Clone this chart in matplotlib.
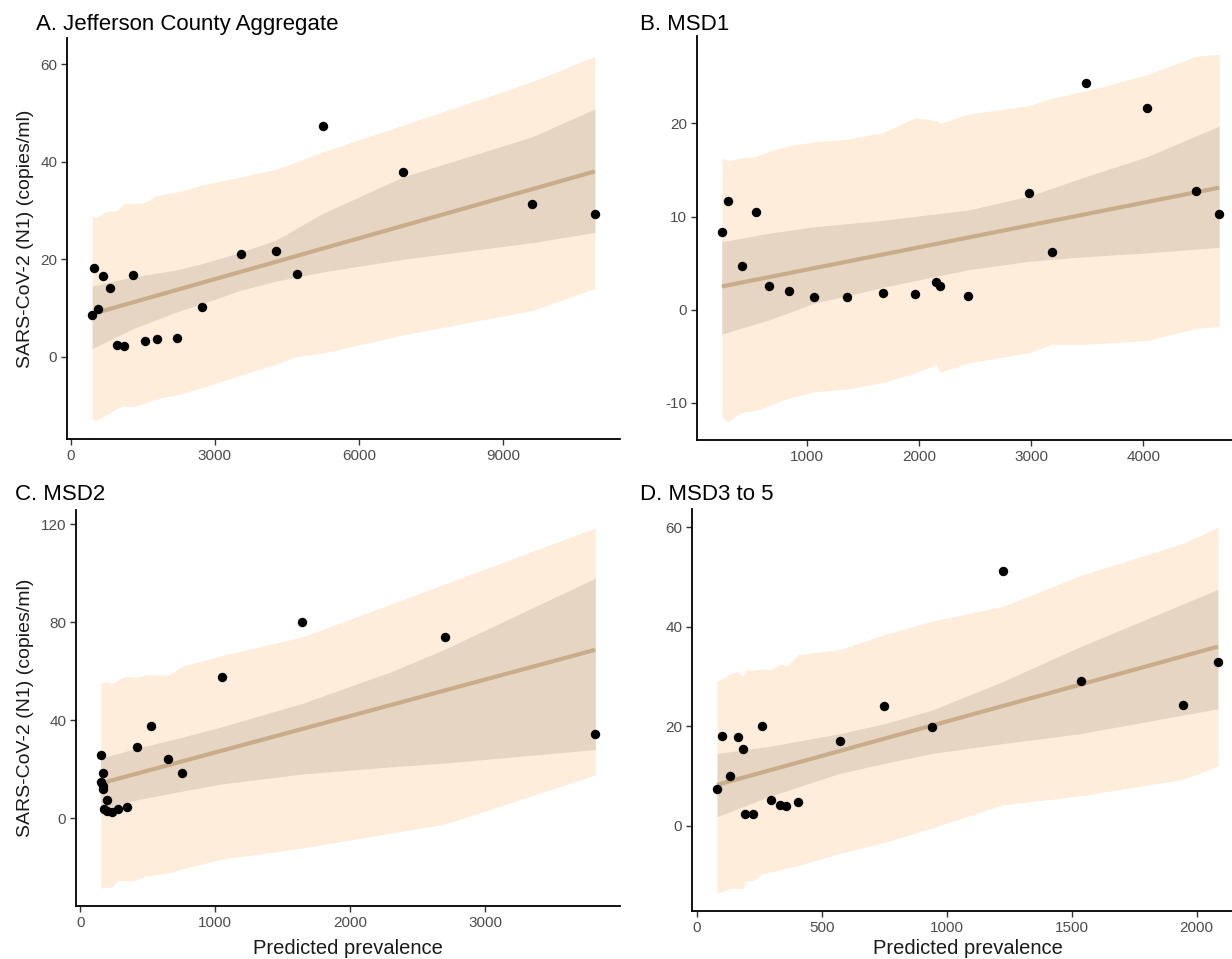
import matplotlib
matplotlib.use("Agg")
import matplotlib.pyplot as plt

plt.rcParams["font.family"] = ["Liberation Sans", "DejaVu Sans"]
plt.rcParams["axes.unicode_minus"] = False

# A. Jefferson County Aggregate
a_x = [442, 491, 557, 663, 811, 950, 1106, 1294, 1540, 1794, 2203, 2735, 3554, 4267, 4709, 5250, 6929, 9615, 10917]
a_y = [8.5, 18.3, 9.8, 16.6, 14.2, 2.5, 2.2, 16.7, 3.3, 3.6, 3.8, 10.3, 21.0, 21.7, 16.9, 47.3, 37.8, 31.3, 29.2]
a_pi_lo = [-12.8, -13.1, -12.9, -12.3, -11.5, -10.6, -10.1, -10.2, -9.5, -8.5, -7.8, -6.3, -3.7, -1.5, 0.1, 0.8, 4.5, 9.5, 14.0]
a_pi_hi = [29.0, 28.6, 28.6, 29.5, 29.9, 29.9, 31.4, 31.4, 31.6, 33.1, 33.7, 35.2, 36.9, 38.4, 40.0, 42.0, 47.5, 56.4, 61.6]
a_ci_x = [442, 1302, 2203, 2735, 3554, 4267, 5250, 6929, 9615, 10917]
a_ci_lo = [1.7, 5.8, 9.2, 10.9, 13.7, 15.5, 17.4, 20.0, 23.4, 25.5]
a_ci_hi = [14.5, 16.4, 17.8, 19.1, 21.5, 23.9, 29.4, 36.9, 45.1, 50.8]
a_fit_x = [442, 10917]
a_fit_y = [8.8, 38.0]

# B. MSD1
b_x = [245, 297, 420, 545, 661, 839, 1066, 1364, 1678, 1965, 2150, 2192, 2441, 2983, 3182, 3493, 4028, 4472, 4675]
b_y = [8.3, 11.7, 4.7, 10.5, 2.6, 2.0, 1.4, 1.4, 1.8, 1.7, 3.0, 2.5, 1.5, 12.5, 6.2, 24.3, 21.6, 12.7, 10.3]
b_pi_lo = [-11.5, -12.0, -11.0, -10.8, -10.3, -9.5, -8.8, -8.5, -7.8, -6.8, -5.9, -6.7, -5.7, -4.6, -3.7, -3.7, -3.3, -2.0, -1.8]
b_pi_hi = [16.3, 16.0, 16.3, 16.4, 17.0, 17.6, 18.0, 18.3, 19.0, 20.6, 20.3, 20.0, 21.0, 21.9, 22.7, 23.5, 25.2, 27.2, 27.4]
b_ci_x = [245, 661, 1066, 1678, 2441, 2983, 3493, 4028, 4675]
b_ci_lo = [-2.6, -1.1, 0.7, 2.4, 4.3, 5.2, 5.7, 6.1, 6.7]
b_ci_hi = [7.3, 8.2, 8.9, 9.6, 10.7, 12.2, 14.3, 16.4, 19.7]
b_fit_x = [245, 4675]
b_fit_y = [2.5, 13.1]

# C. MSD2
c_x = [151, 156, 165, 168, 170, 176, 200, 201, 231, 281, 344, 419, 524, 647, 754, 1049, 1643, 2703, 3816]
c_y = [25.8, 14.8, 13.0, 18.5, 12.0, 3.6, 3.0, 7.6, 2.6, 3.6, 4.6, 29.1, 37.6, 24.1, 18.6, 57.6, 80.0, 73.8, 34.3]
c_pi_x = [151, 189, 233, 277, 335, 408, 495, 655, 754, 1049, 1643, 2703, 3816]
c_pi_lo = [-28.5, -28.3, -28.1, -25.5, -25.5, -25.4, -23.5, -22.4, -20.7, -16.7, -12.2, -2.4, 17.6]
c_pi_hi = [54.9, 55.9, 54.9, 56.3, 57.9, 57.4, 58.6, 58.3, 62.0, 66.4, 73.9, 95.6, 118.4]
c_ci_x = [151, 419, 754, 1049, 1643, 2316, 2703, 3816]
c_ci_lo = [3.4, 7.5, 11.0, 14.0, 18.0, 21.0, 22.5, 28.0]
c_ci_hi = [24.5, 28.5, 33.0, 37.3, 46.8, 60.0, 69.0, 97.9]
c_fit_x = [151, 3816]
c_fit_y = [14.2, 68.7]

# D. MSD3 to 5
d_x = [80, 99, 132, 162, 182, 193, 225, 261, 297, 331, 358, 405, 571, 750, 939, 1225, 1535, 1947, 2085]
d_y = [7.4, 18.1, 9.9, 17.9, 15.4, 2.4, 2.4, 20.1, 5.2, 4.2, 4.0, 4.7, 17.0, 24.0, 19.9, 51.3, 29.1, 24.2, 32.9]
d_pi_lo = [-13.5, -13.3, -12.6, -12.6, -12.8, -11.1, -11.1, -9.7, -9.3, -8.9, -8.5, -8.0, -5.6, -3.4, -0.5, 4.2, 6.0, 9.3, 12.0]
d_pi_hi = [29.0, 29.5, 30.5, 31.0, 30.0, 31.3, 31.3, 31.5, 31.3, 32.5, 32.0, 34.4, 35.4, 38.4, 41.1, 44.1, 50.3, 56.8, 60.0]
d_ci_x = [80, 297, 571, 750, 939, 1225, 1535, 2085]
d_ci_lo = [1.8, 6.0, 10.5, 12.5, 14.5, 16.5, 18.5, 23.5]
d_ci_hi = [14.5, 16.0, 18.5, 20.5, 23.2, 29.0, 36.0, 47.5]
d_fit_x = [80, 2085]
d_fit_y = [8.2, 36.0]

LIGHT = "#FEEDDB"
DARK = "#E6D5C3"
LINE = "#C9AD8A"

W, H = 1232, 959
fig = plt.figure(figsize=(W / 100, H / 100), dpi=100)


def px_axes(l, t, r, b):
    return fig.add_axes([l / W, 1 - b / H, (r - l) / W, (b - t) / H])


panels = [
    dict(box=(67, 38, 620, 439), title="A. Jefferson County Aggregate", tpos=(36, 30),
         x=a_x, y=a_y, pix=a_x, plo=a_pi_lo, phi=a_pi_hi, cix=a_ci_x, clo=a_ci_lo, chi=a_ci_hi,
         fx=a_fit_x, fy=a_fit_y, xt=[0, 3000, 6000, 9000], yt=[0, 20, 40, 60], ylab=True, xlab=False),
    dict(box=(697, 36, 1244, 440), title="B. MSD1", tpos=(640, 30),
         x=b_x, y=b_y, pix=b_x, plo=b_pi_lo, phi=b_pi_hi, cix=b_ci_x, clo=b_ci_lo, chi=b_ci_hi,
         fx=b_fit_x, fy=b_fit_y, xt=[1000, 2000, 3000, 4000], yt=[-10, 0, 10, 20], ylab=False, xlab=False),
    dict(box=(76, 510, 620, 906), title="C. MSD2", tpos=(15, 500),
         x=c_x, y=c_y, pix=c_pi_x, plo=c_pi_lo, phi=c_pi_hi, cix=c_ci_x, clo=c_ci_lo, chi=c_ci_hi,
         fx=c_fit_x, fy=c_fit_y, xt=[0, 1000, 2000, 3000], yt=[0, 40, 80, 120], ylab=True, xlab=True),
    dict(box=(692, 509, 1243, 911), title="D. MSD3 to 5", tpos=(640, 500),
         x=d_x, y=d_y, pix=d_x, plo=d_pi_lo, phi=d_pi_hi, cix=d_ci_x, clo=d_ci_lo, chi=d_ci_hi,
         fx=d_fit_x, fy=d_fit_y, xt=[0, 500, 1000, 1500, 2000], yt=[0, 20, 40, 60], ylab=False, xlab=True),
]

for p in panels:
    l, t, r, b = p["box"]
    ax = px_axes(l, t, r, b)
    ax.fill_between(p["pix"], p["plo"], p["phi"], color=LIGHT, lw=0, zorder=1)
    ax.fill_between(p["cix"], p["clo"], p["chi"], color=DARK, lw=0, zorder=2)
    ax.plot(p["fx"], p["fy"], color=LINE, lw=3, solid_capstyle="butt", zorder=3)
    ax.scatter(p["x"], p["y"], s=46, color="black", lw=0, zorder=4)
    ax.set_xticks(p["xt"])
    ax.set_yticks(p["yt"])
    for s in ("top", "right"):
        ax.spines[s].set_visible(False)
    for s in ("left", "bottom"):
        ax.spines[s].set_linewidth(1.3)
    ax.tick_params(length=4, width=1, color="#333333", labelcolor="#4D4D4D", labelsize=11, pad=3)
    if p["ylab"]:
        ax.set_ylabel("SARS-CoV-2 (N1) (copies/ml)", fontsize=14, color="#1a1a1a")
        ax.yaxis.set_label_coords((26 - l) / (r - l), 0.5)
        ax.yaxis.label.set_va("center")
    if p["xlab"]:
        ax.set_xlabel("Predicted prevalence", fontsize=14.5, color="#1a1a1a")
        ax.xaxis.set_label_coords(0.5, -(948 - b) / (b - t))
        ax.xaxis.label.set_va("center")
    tx, ty = p["tpos"]
    fig.text(tx / W, 1 - ty / H, p["title"], fontsize=16, va="baseline", ha="left", color="black")

fig.savefig("out.png", dpi=100)
